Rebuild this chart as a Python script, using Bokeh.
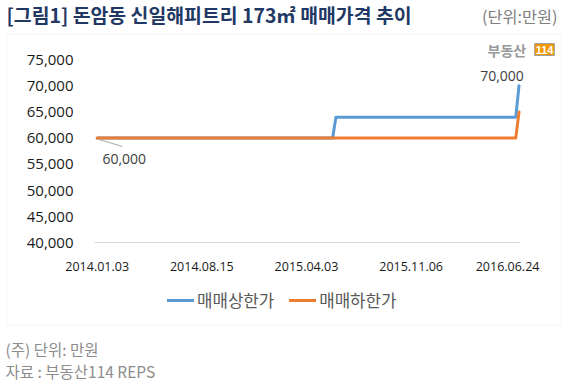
from bokeh.plotting import figure
from bokeh.models import (Range1d, FixedTicker, NumeralTickFormatter, Label,
                          BoxAnnotation, Legend, LegendItem)
from bokeh.core.properties import value
from bokeh.embed import file_html
from bokeh.resources import INLINE

# ---- data (weekly observation index -> price, 만원) ----
tick_idx = [0, 32, 64, 96, 125.5]
tick_labels = ["2014.01.03", "2014.08.15", "2015.04.03", "2015.11.06", "2016.06.24"]

upper_idx = [0, 72, 73, 128, 129]
upper_val = [60000, 60000, 64000, 64000, 70000]
lower_idx = [0, 128, 129]
lower_val = [60000, 60000, 65000]

y_ticks = [40000, 45000, 50000, 55000, 60000, 65000, 70000, 75000]

series_names = ["매매상한가", "매매하한가"]
series_colors = ["#5B9BD5", "#ED7D31"]

title_text = "[그림1] 돈암동 신일해피트리 173㎡ 매매가격 추이"
unit_text = "(단위:만원)"
note_texts = ["(주) 단위: 만원", "자료 : 부동산114 REPS"]
logo_text = ["부동산", "114"]

KR = "Noto Sans CJK KR"
NUM = "Open Sans"

# ---- layout geometry (pixels) ----
W, H = 569, 390
X0_PX, PX_PER_IDX = 96.7, 3.27           # x pixel of index 0, pixels per index
Y_HI_PX, Y_LO_PX = 59.0, 242.4           # pixel rows of 75,000 and 40,000
px_per_val = (Y_LO_PX - Y_HI_PX) / (y_ticks[-1] - y_ticks[0])

x_start = -X0_PX / PX_PER_IDX
x_end = (W - X0_PX) / PX_PER_IDX
y_start = y_ticks[0] - (H - Y_LO_PX) / px_per_val
y_end = y_start + H / px_per_val

p = figure(width=W, height=H, output_backend="svg", toolbar_location=None,
           x_range=Range1d(x_start, x_end), y_range=Range1d(y_start, y_end),
           min_border=0)
p.outline_line_color = None
p.xgrid.visible = False
p.ygrid.visible = False
p.background_fill_color = "white"
p.border_fill_color = "white"

axis_left_idx = (94 - X0_PX) / PX_PER_IDX
axis_right_idx = (520 - X0_PX) / PX_PER_IDX

# axes drawn at fixed locations inside the full-canvas frame
p.yaxis.fixed_location = axis_left_idx
p.yaxis.ticker = FixedTicker(ticks=y_ticks)
p.yaxis.formatter = NumeralTickFormatter(format="0,0")
p.yaxis.axis_line_color = None
p.yaxis.major_tick_line_color = None
p.yaxis.minor_tick_line_color = None
p.yaxis.major_tick_out = 0
p.yaxis.major_tick_in = 0
p.yaxis.major_label_standoff = 21
p.yaxis.major_label_text_font = NUM
p.yaxis.major_label_text_font_size = "15px"
p.yaxis.major_label_text_color = "#1a1a1a"

p.xaxis.fixed_location = y_ticks[0]
p.xaxis.bounds = (axis_left_idx, axis_right_idx)
p.xaxis.ticker = FixedTicker(ticks=tick_idx)
p.xaxis.major_label_overrides = {t: l for t, l in zip(tick_idx, tick_labels)}
p.xaxis.axis_line_color = "#d9d9d9"
p.xaxis.major_tick_line_color = None
p.xaxis.minor_tick_line_color = None
p.xaxis.major_tick_out = 0
p.xaxis.major_tick_in = 0
p.xaxis.major_label_standoff = 19
p.xaxis.major_label_text_font = NUM
p.xaxis.major_label_text_font_size = "12.5px"
p.xaxis.major_label_text_color = "#1a1a1a"

# lines
r_up = p.line(upper_idx, upper_val, line_color=series_colors[0], line_width=3,
              line_join="round", line_cap="round")
r_lo = p.line(lower_idx, lower_val, line_color=series_colors[1], line_width=3,
              line_join="round", line_cap="round")

# data labels
p.segment(x0=[lower_idx[0] + 0.7], y0=[lower_val[0] - 300],
          x1=[lower_idx[0] + 7.7], y1=[lower_val[0] - 1600],
          line_color="#a6a6a6", line_width=1)
p.text(x=[lower_idx[0]], y=[lower_val[0]], text=[f"{lower_val[0]:,}"],
       x_offset=27, y_offset=21, text_align="center", text_baseline="middle",
       text_font=value(NUM), text_font_size="14px", text_color="#404040")
p.text(x=[upper_idx[-1]], y=[upper_val[-1]], text=[f"{upper_val[-1]:,}"],
       x_offset=-17, y_offset=-10, text_align="center", text_baseline="middle",
       text_font=value(NUM), text_font_size="14px", text_color="#404040")

# legend (frame covers the whole canvas, so screen coords = canvas coords, y up)
legend = Legend(items=[LegendItem(label=series_names[0], renderers=[r_up]),
                       LegendItem(label=series_names[1], renderers=[r_lo])],
                orientation="horizontal", location=(167, H - 312),
                label_text_font=KR, label_text_font_size="16.8px",
                label_text_color="#595959", glyph_width=27, glyph_height=16,
                label_standoff=3, spacing=15, padding=0, margin=0,
                border_line_color=None, background_fill_alpha=0)
p.add_layout(legend)

# chart border box
p.add_layout(BoxAnnotation(left=6.5, right=560.5, top=H - 33.5, bottom=H - 324.5,
                           left_units="screen", right_units="screen",
                           top_units="screen", bottom_units="screen",
                           fill_color=None, line_color="#d9d9d9", line_width=1))

def scr_label(x, y, text, **kw):
    p.add_layout(Label(x=x, y=H - y, x_units="screen", y_units="screen", text=text,
                       text_baseline="middle", **kw))

scr_label(6, 14, title_text, text_font=KR, text_font_size="19.4px",
          text_font_style="bold", text_color="#1F3864")
scr_label(557, 15, unit_text, text_font=KR, text_font_size="16.3px",
          text_color="#808080", text_align="right")
for i, t in enumerate(note_texts):
    scr_label(5, 348 + 22 * i, t, text_font=KR, text_font_size="15.5px",
              text_color="#8c8c8c")

# logo
scr_label(487, 49, logo_text[0], text_font=KR, text_font_size="14px",
          text_font_style="bold", text_color="#999999")
scr_label(544, 49, logo_text[1], text_font="Liberation Sans", text_font_size="11px",
          text_font_style="bold", text_color="white", text_align="center",
          background_fill_color="#F39800", border_line_color="#a0a0a0", padding=(1, 2))

open("out.html", "w").write(file_html(p, INLINE))
